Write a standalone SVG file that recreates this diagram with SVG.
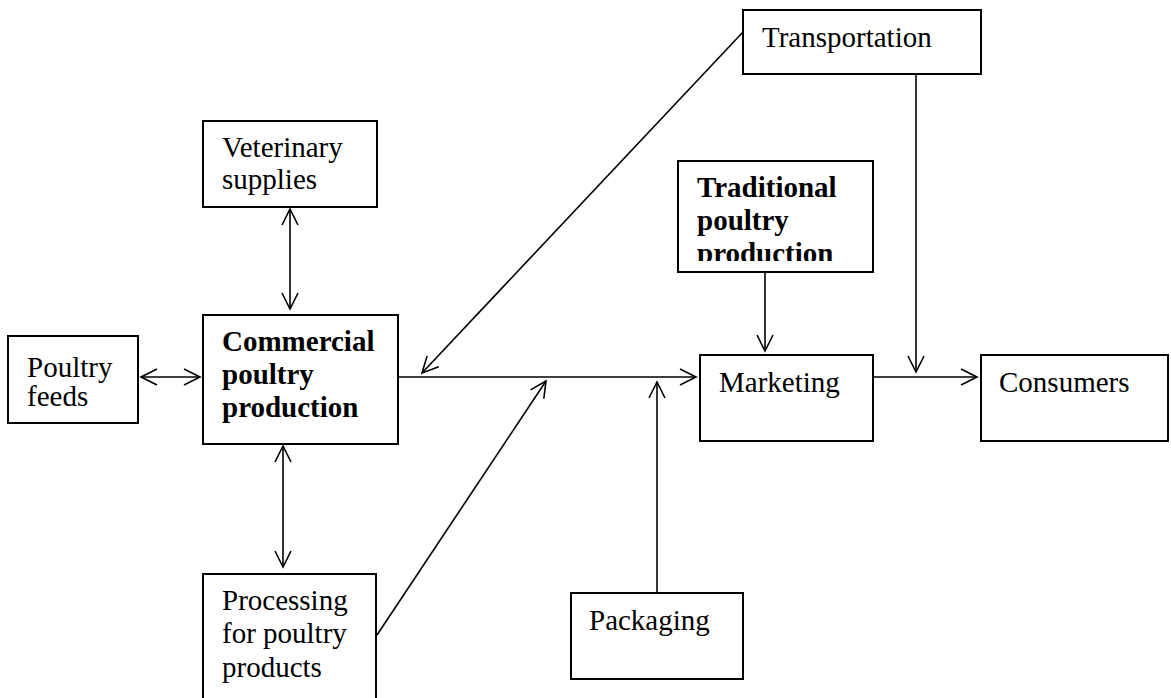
<svg xmlns="http://www.w3.org/2000/svg" width="1171" height="698" viewBox="0 0 1171 698">
<style>
  .box { fill: #fff; stroke: #000; stroke-width: 2; }
  .t { font-family: "Liberation Serif", "Times New Roman", serif; font-size: 29px; fill: #000; }
  .b { font-weight: bold; }
  .c { fill: none; stroke: #000; stroke-width: 1.6; }
</style>
<defs>
  <marker id="ah" markerUnits="userSpaceOnUse" markerWidth="20" markerHeight="20" refX="17" refY="9" orient="auto-start-reverse">
    <path d="M1,1 L17,9 L1,17" fill="none" stroke="#000" stroke-width="1.6"/>
  </marker>
  <clipPath id="tradclip"><rect x="678" y="161" width="195" height="100"/></clipPath>
</defs>
<rect x="0" y="0" width="1171" height="698" fill="#fff"/>

<g id="connectors">
  <line class="c" x1="141" y1="377" x2="200" y2="377" marker-start="url(#ah)" marker-end="url(#ah)"/>
  <line class="c" x1="290" y1="209" x2="290" y2="309" marker-start="url(#ah)" marker-end="url(#ah)"/>
  <line class="c" x1="283" y1="446" x2="283" y2="567" marker-start="url(#ah)" marker-end="url(#ah)"/>
  <line class="c" x1="398" y1="377" x2="696" y2="377" marker-end="url(#ah)"/>
  <line class="c" x1="743" y1="32" x2="422" y2="373" marker-end="url(#ah)"/>
  <line class="c" x1="377" y1="635" x2="546" y2="381" marker-end="url(#ah)"/>
  <line class="c" x1="657" y1="593" x2="657" y2="382" marker-end="url(#ah)"/>
  <line class="c" x1="765" y1="268" x2="765" y2="351" marker-end="url(#ah)"/>
  <line class="c" x1="873" y1="377" x2="977" y2="377" marker-end="url(#ah)"/>
  <line class="c" x1="916" y1="74" x2="916" y2="372" marker-end="url(#ah)"/>
</g>

<g id="veterinary">
  <rect class="box" x="203" y="121" width="174" height="86"/>
  <text class="t" x="222" y="157">Veterinary</text>
  <text class="t" x="222" y="189">supplies</text>
</g>
<g id="commercial">
  <rect class="box" x="203" y="315" width="195" height="129"/>
  <text class="t b" x="222" y="351">Commercial</text>
  <text class="t b" x="222" y="384">poultry</text>
  <text class="t b" x="222" y="417">production</text>
</g>
<g id="feeds">
  <rect class="box" x="8" y="336" width="130" height="87"/>
  <text class="t" x="27" y="377">Poultry</text>
  <text class="t" x="27" y="406">feeds</text>
</g>
<g id="processing">
  <rect class="box" x="203" y="574" width="173" height="140"/>
  <text class="t" x="222" y="610">Processing</text>
  <text class="t" x="222" y="643">for poultry</text>
  <text class="t" x="222" y="677">products</text>
</g>
<g id="transportation">
  <rect class="box" x="743" y="10" width="238" height="64"/>
  <text class="t" x="762" y="47">Transportation</text>
</g>
<g id="traditional">
  <rect class="box" x="678" y="161" width="195" height="111"/>
  <g clip-path="url(#tradclip)">
    <text class="t b" x="697" y="197">Traditional</text>
    <text class="t b" x="697" y="230">poultry</text>
    <text class="t b" x="697" y="263">production</text>
  </g>
</g>
<g id="marketing">
  <rect class="box" x="700" y="355" width="173" height="86"/>
  <text class="t" x="719" y="392">Marketing</text>
</g>
<g id="consumers">
  <rect class="box" x="981" y="355" width="187" height="86"/>
  <text class="t" x="999" y="392">Consumers</text>
</g>
<g id="packaging">
  <rect class="box" x="571" y="593" width="172" height="86"/>
  <text class="t" x="589" y="630">Packaging</text>
</g>
</svg>
